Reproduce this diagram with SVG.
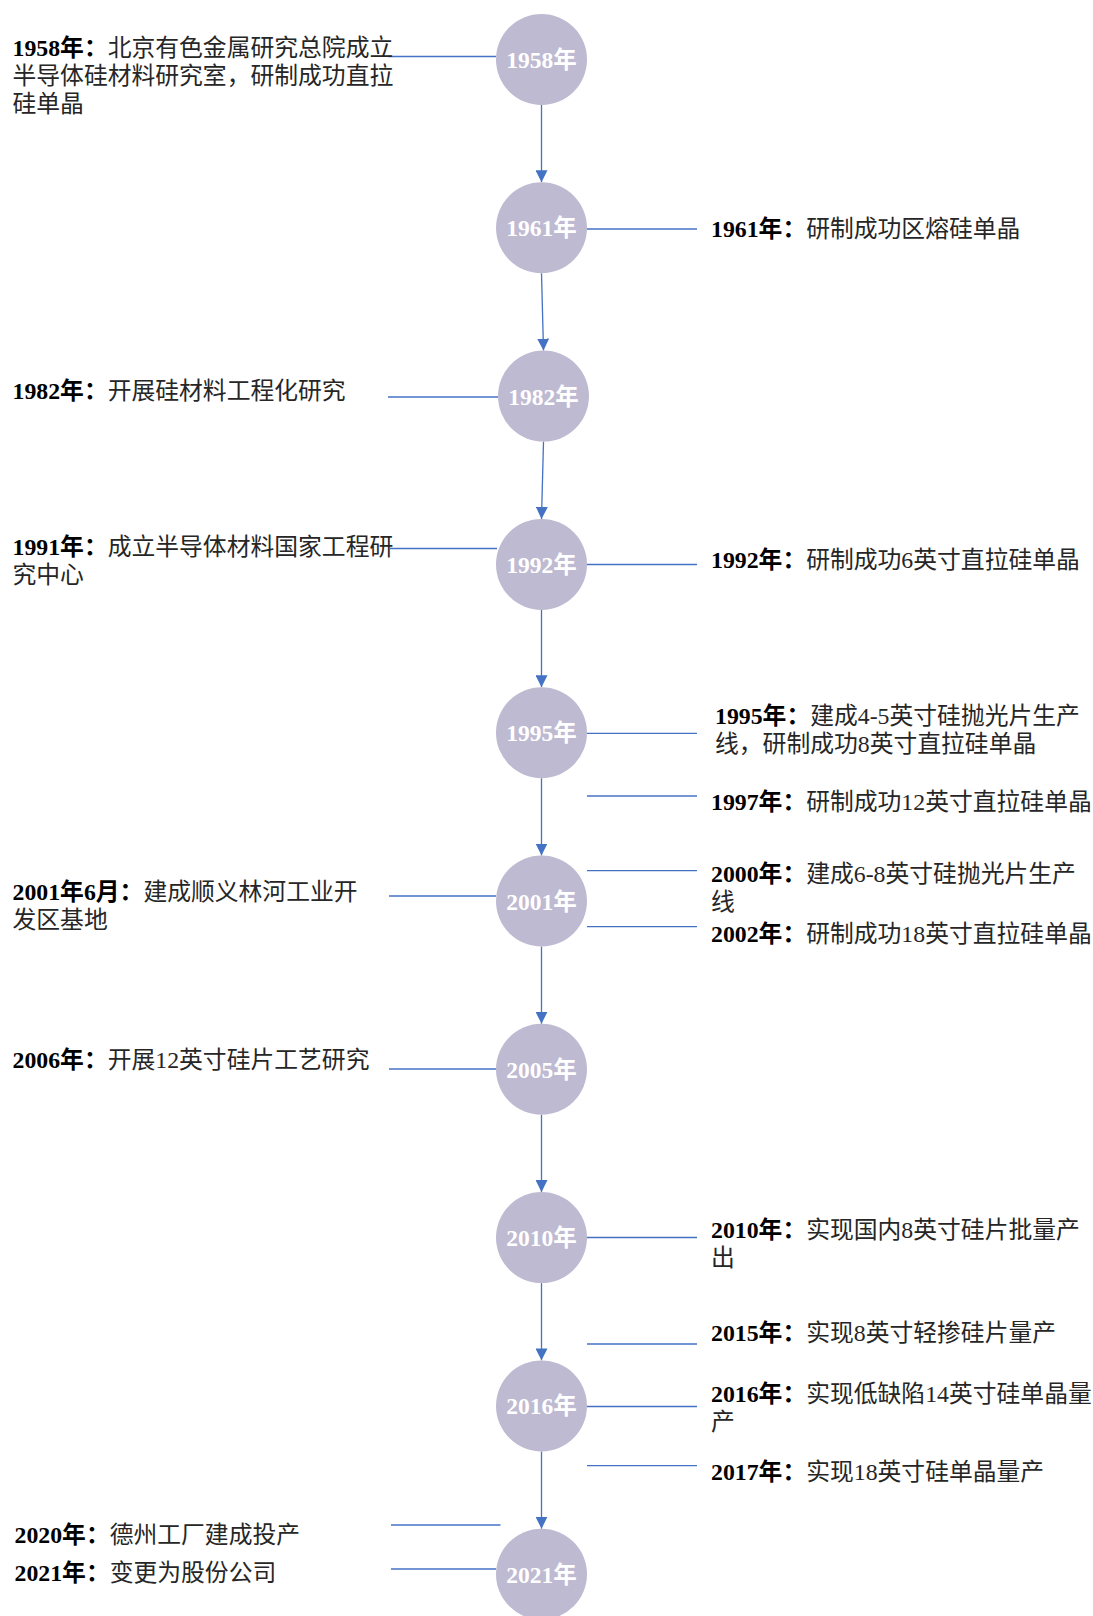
<svg xmlns="http://www.w3.org/2000/svg" width="1093" height="1616" viewBox="0 0 1093 1616">
<style>
.bg{fill:#ffffff}
.node{fill:#bebad2}
.nt{font-family:"Liberation Serif","Noto Sans CJK SC",serif;font-weight:bold;font-size:23.5px;fill:#ffffff;text-anchor:middle}
.lbl{font-family:"Liberation Serif","Noto Sans CJK SC",serif;font-size:23.8px;fill:#262626}
.b{font-weight:bold;fill:#000000}
.con line{stroke:#4472c4;stroke-width:1.3;fill:none}
.con .arr{marker-end:url(#ah)}
</style>
<defs>
<marker id="ah" markerUnits="userSpaceOnUse" markerWidth="12" markerHeight="12" refX="12" refY="6" orient="auto">
<path d="M0,0 L12,6 L0,12 z" fill="#4472c4"/>
</marker>
</defs>
<rect class="bg" x="0" y="0" width="1093" height="1616"/>

<g id="connectors" class="con">
<line class="arr" x1="541.5" y1="105" x2="541.5" y2="182.3"/>
<line class="arr" x1="541.5" y1="273.3" x2="543.5" y2="350.6"/>
<line class="arr" x1="543.5" y1="441.6" x2="541.5" y2="518.9"/>
<line class="arr" x1="541.5" y1="609.9" x2="541.5" y2="687.2"/>
<line class="arr" x1="541.5" y1="778.2" x2="541.5" y2="855.5"/>
<line class="arr" x1="541.5" y1="946.5" x2="541.5" y2="1023.8"/>
<line class="arr" x1="541.5" y1="1114.8" x2="541.5" y2="1192.1"/>
<line class="arr" x1="541.5" y1="1283.1" x2="541.5" y2="1360.4"/>
<line class="arr" x1="541.5" y1="1451.4" x2="541.5" y2="1528.7"/>
<line x1="388" y1="56.5" x2="496" y2="56.5"/>
<line x1="388" y1="397" x2="498" y2="397"/>
<line x1="390" y1="548.5" x2="497" y2="548.5"/>
<line x1="389" y1="896" x2="496" y2="896"/>
<line x1="389" y1="1069" x2="496" y2="1069"/>
<line x1="391" y1="1525" x2="500.5" y2="1525"/>
<line x1="391" y1="1569" x2="496" y2="1569"/>
<line x1="587" y1="229" x2="697" y2="229"/>
<line x1="587" y1="564.5" x2="697" y2="564.5"/>
<line x1="587" y1="733.3" x2="697" y2="733.3"/>
<line x1="587" y1="796" x2="697" y2="796"/>
<line x1="587" y1="870.7" x2="697" y2="870.7"/>
<line x1="587" y1="926.7" x2="697" y2="926.7"/>
<line x1="587" y1="1237.5" x2="697" y2="1237.5"/>
<line x1="587" y1="1344" x2="697" y2="1344"/>
<line x1="587" y1="1406.5" x2="697" y2="1406.5"/>
<line x1="587" y1="1465.7" x2="697" y2="1465.7"/>
</g>

<g id="node-1958"><circle class="node" cx="541.5" cy="59.5" r="45.5"/><text class="nt" x="541.5" y="68">1958年</text></g>
<g id="node-1961"><circle class="node" cx="541.5" cy="227.8" r="45.5"/><text class="nt" x="541.5" y="236.3">1961年</text></g>
<g id="node-1982"><circle class="node" cx="543.5" cy="396.1" r="45.5"/><text class="nt" x="543.5" y="404.6">1982年</text></g>
<g id="node-1992"><circle class="node" cx="541.5" cy="564.4" r="45.5"/><text class="nt" x="541.5" y="572.9">1992年</text></g>
<g id="node-1995"><circle class="node" cx="541.5" cy="732.7" r="45.5"/><text class="nt" x="541.5" y="741.2">1995年</text></g>
<g id="node-2001"><circle class="node" cx="541.5" cy="901" r="45.5"/><text class="nt" x="541.5" y="909.5">2001年</text></g>
<g id="node-2005"><circle class="node" cx="541.5" cy="1069.3" r="45.5"/><text class="nt" x="541.5" y="1077.8">2005年</text></g>
<g id="node-2010"><circle class="node" cx="541.5" cy="1237.6" r="45.5"/><text class="nt" x="541.5" y="1246.1">2010年</text></g>
<g id="node-2016"><circle class="node" cx="541.5" cy="1405.9" r="45.5"/><text class="nt" x="541.5" y="1414.4">2016年</text></g>
<g id="node-2021"><circle class="node" cx="541.5" cy="1574.2" r="45.5"/><text class="nt" x="541.5" y="1582.7">2021年</text></g>

<g id="label-1958"><text class="lbl" x="12.5" y="56"><tspan class="b">1958年：</tspan>北京有色金属研究总院成立</text><text class="lbl" x="12.5" y="84">半导体硅材料研究室，研制成功直拉</text><text class="lbl" x="12.5" y="112">硅单晶</text></g>
<g id="label-1961"><text class="lbl" x="711" y="237"><tspan class="b">1961年：</tspan>研制成功区熔硅单晶</text></g>
<g id="label-1982"><text class="lbl" x="12.5" y="398.5"><tspan class="b">1982年：</tspan>开展硅材料工程化研究</text></g>
<g id="label-1991"><text class="lbl" x="12.5" y="555"><tspan class="b">1991年：</tspan>成立半导体材料国家工程研</text><text class="lbl" x="12.5" y="583">究中心</text></g>
<g id="label-1992"><text class="lbl" x="711" y="567.5"><tspan class="b">1992年：</tspan>研制成功6英寸直拉硅单晶</text></g>
<g id="label-1995"><text class="lbl" x="715" y="724"><tspan class="b">1995年：</tspan>建成4-5英寸硅抛光片生产</text><text class="lbl" x="715" y="752">线，研制成功8英寸直拉硅单晶</text></g>
<g id="label-1997"><text class="lbl" x="711" y="810"><tspan class="b">1997年：</tspan>研制成功12英寸直拉硅单晶</text></g>
<g id="label-2000"><text class="lbl" x="711" y="881.5"><tspan class="b">2000年：</tspan>建成6-8英寸硅抛光片生产</text><text class="lbl" x="711" y="909.5">线</text></g>
<g id="label-2001"><text class="lbl" x="12.5" y="900"><tspan class="b">2001年6月：</tspan>建成顺义林河工业开</text><text class="lbl" x="12.5" y="928">发区基地</text></g>
<g id="label-2002"><text class="lbl" x="711" y="942"><tspan class="b">2002年：</tspan>研制成功18英寸直拉硅单晶</text></g>
<g id="label-2006"><text class="lbl" x="12.5" y="1068"><tspan class="b">2006年：</tspan>开展12英寸硅片工艺研究</text></g>
<g id="label-2010"><text class="lbl" x="711" y="1238"><tspan class="b">2010年：</tspan>实现国内8英寸硅片批量产</text><text class="lbl" x="711" y="1266">出</text></g>
<g id="label-2015"><text class="lbl" x="711" y="1340.5"><tspan class="b">2015年：</tspan>实现8英寸轻掺硅片量产</text></g>
<g id="label-2016"><text class="lbl" x="711" y="1402"><tspan class="b">2016年：</tspan>实现低缺陷14英寸硅单晶量</text><text class="lbl" x="711" y="1430">产</text></g>
<g id="label-2017"><text class="lbl" x="711" y="1480"><tspan class="b">2017年：</tspan>实现18英寸硅单晶量产</text></g>
<g id="label-2020"><text class="lbl" x="14.5" y="1543"><tspan class="b">2020年：</tspan>德州工厂建成投产</text></g>
<g id="label-2021"><text class="lbl" x="14.5" y="1581"><tspan class="b">2021年：</tspan>变更为股份公司</text></g>
</svg>
